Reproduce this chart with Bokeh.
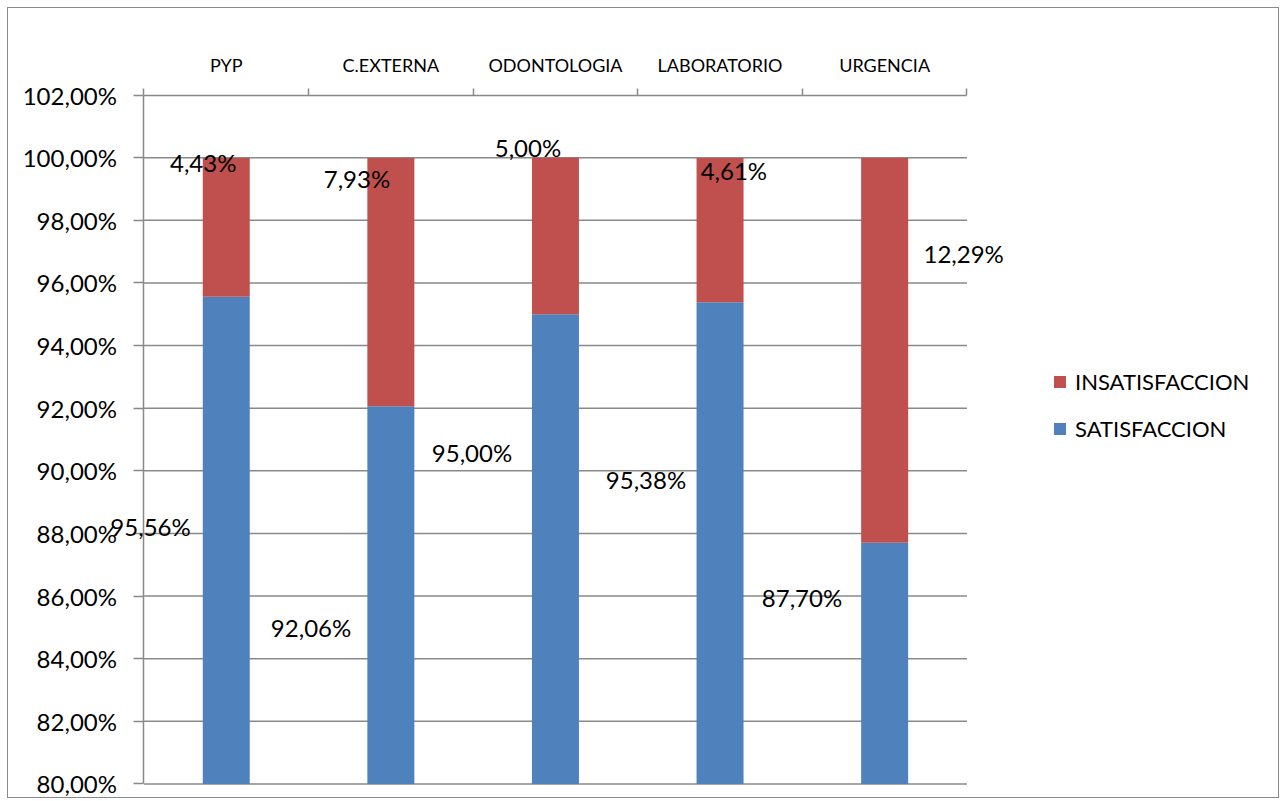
from bokeh.plotting import figure
from bokeh.models import (Range1d, FixedTicker, ColumnDataSource, Legend, LegendItem,
                          LabelSet)
from bokeh.core.properties import value
from bokeh.embed import file_html
from bokeh.resources import INLINE

# Survey results per service (percent)
categories = ["PYP", "C.EXTERNA", "ODONTOLOGIA", "LABORATORIO", "URGENCIA"]
satisfaccion = [95.56, 92.06, 95.00, 95.38, 87.70]
insatisfaccion = [4.43, 7.93, 5.00, 4.61, 12.29]
y_ticks = [80, 82, 84, 86, 88, 90, 92, 94, 96, 98, 100, 102]

# Where each data label sits: offset from the category centre and height (percent)
sat_label_dx = [-0.46, -0.485, -0.507, -0.45, -0.502]
sat_label_y = [88.21, 85.01, 90.60, 89.71, 85.94]
ins_label_dx = [-0.14, -0.206, -0.167, 0.084, 0.48]
ins_label_y = [99.86, 99.32, 100.31, 99.60, 96.95]

BLUE = "#4F81BD"
RED = "#C0504D"
GRAY = "#898989"
FONT = "Lato"

N = len(categories)
Y_MIN, Y_MAX = y_ticks[0], y_ticks[-1]
# The plotting frame fills the whole canvas; the chart area is 0..N by
# Y_MIN..Y_MAX, leaving room around it for axis labels and the legend.
X_START, X_END = -0.823, N + 1.905
Y_START, Y_END = Y_MIN - 0.495, Y_MAX + 2.762


def pct(v):
    return f"{v:.2f}".replace(".", ",") + "%"


xs = [i + 0.5 for i in range(N)]
source = ColumnDataSource(dict(
    x=xs, base=[Y_MIN] * N, sat=satisfaccion,
    ins_top=[s + i for s, i in zip(satisfaccion, insatisfaccion)]))

p = figure(width=1272, height=791,
           x_range=Range1d(X_START, X_END), y_range=Range1d(Y_START, Y_END),
           x_axis_location="above",
           output_backend="svg", toolbar_location=None,
           min_border_left=0, min_border_top=0,
           min_border_right=0, min_border_bottom=0)
p.styles = {"margin-left": "7px", "margin-top": "7px",
            "border": "1.5px solid #8a8a8a"}
p.outline_line_color = None
p.background_fill_color = "white"
p.border_fill_color = "white"

# Horizontal grid lines across the category area only
grid_y = y_ticks[:-1]
p.segment(x0=[0] * len(grid_y), x1=[N] * len(grid_y),
          y0=grid_y, y1=grid_y, line_color=GRAY, line_width=1.5)

# Stacked bars, starting at the bottom of the value axis
r_sat = p.vbar(x="x", bottom="base", top="sat", width=0.2855, source=source,
               fill_color=BLUE, line_color=None)
r_ins = p.vbar(x="x", bottom="sat", top="ins_top", width=0.2855, source=source,
               fill_color=RED, line_color=None)

# Data labels
sat_src = ColumnDataSource(dict(
    x=[x + d for x, d in zip(xs, sat_label_dx)], y=sat_label_y,
    text=[pct(v) for v in satisfaccion]))
ins_src = ColumnDataSource(dict(
    x=[x + d for x, d in zip(xs, ins_label_dx)], y=ins_label_y,
    text=[pct(v) for v in insatisfaccion]))
for src in (sat_src, ins_src):
    p.add_layout(LabelSet(x="x", y="y", text="text", source=src,
                          text_align="center", text_baseline="middle",
                          text_font=value(FONT), text_font_size="24px",
                          text_color="black"))

# Category axis on top: labels at centres, tick marks at boundaries
xa = p.xaxis[0]
xa.fixed_location = Y_MAX
xa.bounds = (0, N)
xa.ticker = FixedTicker(ticks=xs, minor_ticks=list(range(N + 1)))
xa.major_label_overrides = {x: c for x, c in zip(xs, categories)}
xa.major_tick_line_color = None
xa.minor_tick_in = 0
xa.minor_tick_out = 7
xa.minor_tick_line_color = GRAY
xa.minor_tick_line_width = 1.5
xa.axis_line_color = GRAY
xa.axis_line_width = 1.5
xa.major_label_standoff = 12
xa.major_label_text_font = FONT
xa.major_label_text_font_size = "18px"
xa.major_label_text_color = "black"

ya = p.yaxis[0]
ya.fixed_location = 0
ya.bounds = (Y_MIN, Y_MAX)
ya.ticker = FixedTicker(ticks=y_ticks, minor_ticks=[])
ya.major_label_overrides = {t: pct(t) for t in y_ticks}
ya.major_tick_in = 0
ya.major_tick_out = 10
ya.major_tick_line_color = GRAY
ya.major_tick_line_width = 1.5
ya.axis_line_color = GRAY
ya.axis_line_width = 1.5
ya.major_label_standoff = 17
ya.major_label_text_font = FONT
ya.major_label_text_font_size = "24px"
ya.major_label_text_color = "black"

p.xgrid.grid_line_color = None
p.ygrid.grid_line_color = None

legend = Legend(items=[LegendItem(label="INSATISFACCION", renderers=[r_ins]),
                       LegendItem(label="SATISFACCION", renderers=[r_sat])],
                location=(1044, 357), margin=0, padding=0,
                glyph_width=15, glyph_height=15, label_standoff=8,
                label_height=24, spacing=20,
                label_text_font=FONT, label_text_font_size="22px",
                label_text_color="black",
                border_line_color=None, background_fill_alpha=0)
p.add_layout(legend, "center")

open("out.html", "w").write(file_html(p, INLINE))
